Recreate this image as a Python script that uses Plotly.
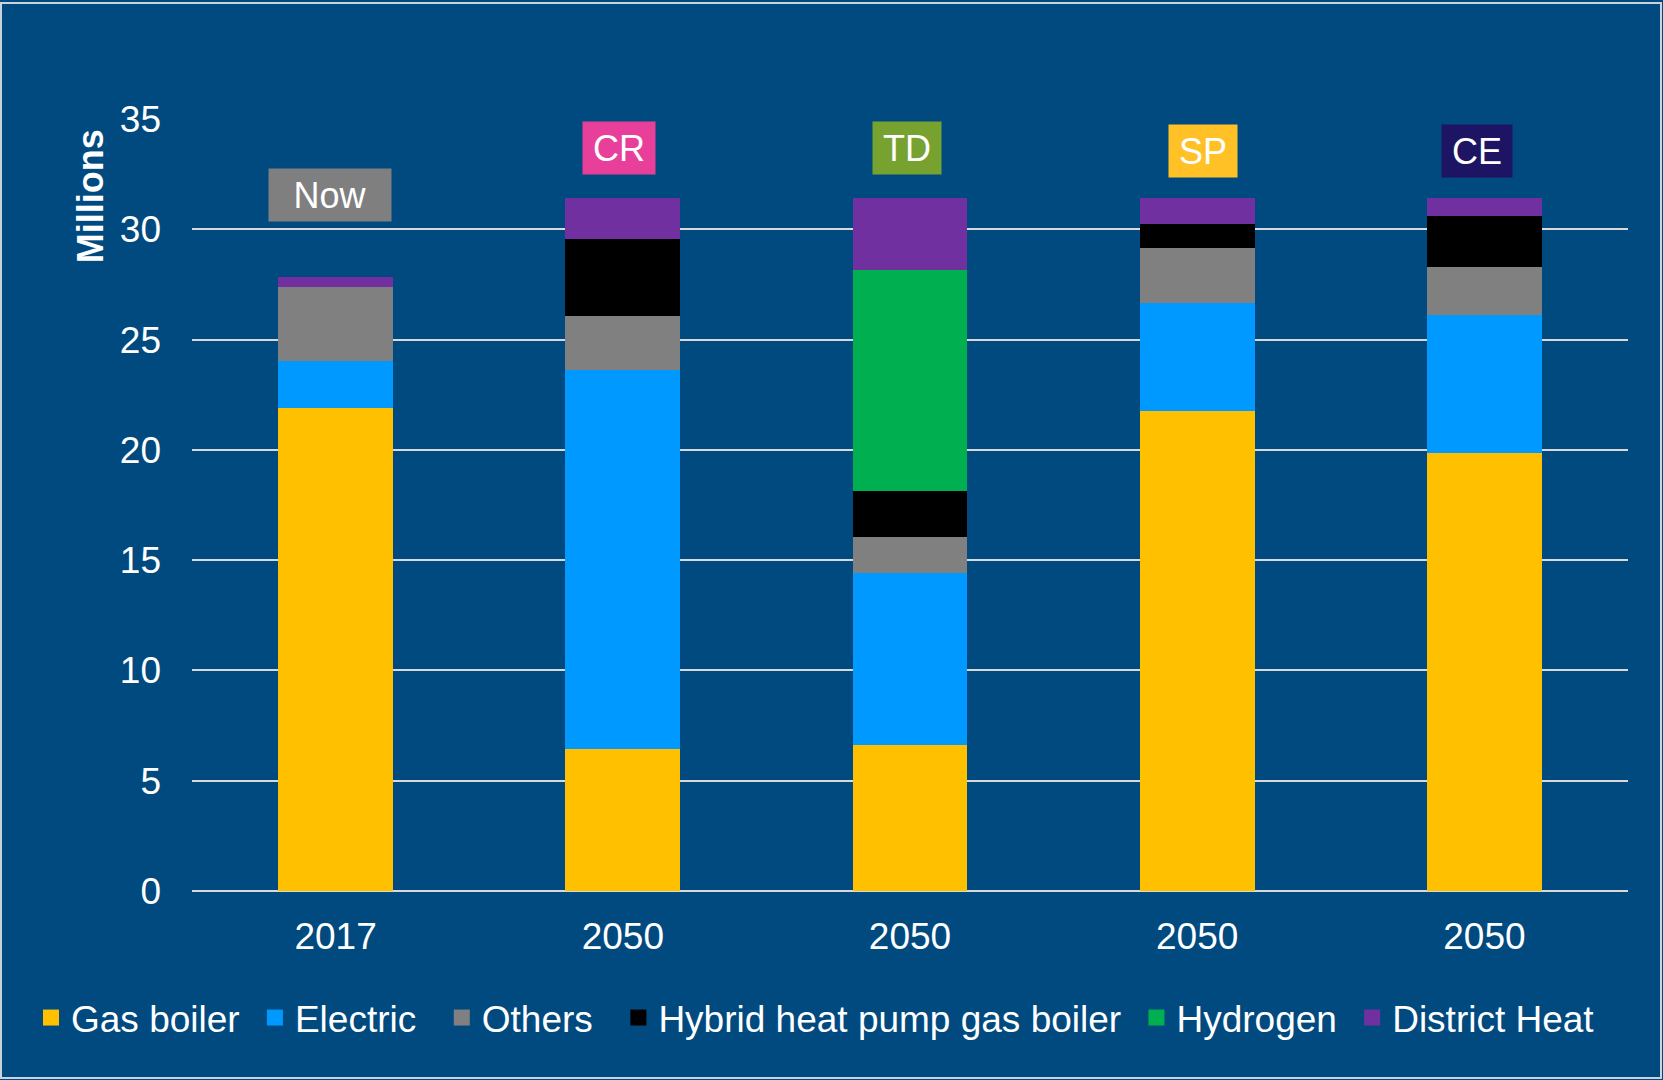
"""
Stacked bar chart: domestic heating technologies, now vs 2050 scenarios.
"""

import plotly.graph_objects as go

# ---- data -------------------------------------------------------------
year_labels = ["2017", "2050", "2050", "2050", "2050"]
scenario_labels = ["Now", "CR", "TD", "SP", "CE"]

gas_boiler = [21.9, 6.45, 6.63, 21.75, 19.85]
electric = [2.12, 17.15, 7.77, 4.9, 6.28]
others = [3.35, 2.46, 1.64, 2.51, 2.14]
hybrid = [0.0, 3.52, 2.1, 1.1, 2.34]
hydrogen = [0.0, 0.0, 10.03, 0.0, 0.0]
district_heat = [0.45, 1.83, 3.24, 1.15, 0.8]

series = [
    ("Gas boiler", gas_boiler, "#ffc000"),
    ("Electric", electric, "#0099ff"),
    ("Others", others, "#808080"),
    ("Hybrid heat pump gas boiler", hybrid, "#000000"),
    ("Hydrogen", hydrogen, "#00b050"),
    ("District Heat", district_heat, "#7030a0"),
]
# extra spacing after each legend entry (non-breaking spaces)
legend_pad = [1, 2, 2, 1, 1, 0]

# scenario tag styling
tag_colors = ["#7f7f7f", "#e8409a", "#77a22f", "#ffc125", "#1e1464"]
tag_y = [31.55, 33.7, 33.7, 33.55, 33.55]
tag_width = [120, 70, 66, 66, 68]
tag_shift = [-6, -4, -3, 6, -7]

BG = "#004a80"
FONT = "Arial, Liberation Sans, sans-serif"

W, H = 1663, 1080
margin_l, margin_r, margin_t, margin_b = 192, 35, 119, 189
plot_w = W - margin_l - margin_r
plot_h = H - margin_t - margin_b


def px_x(px):
    """pixel column -> paper x"""
    return (px - margin_l) / plot_w


def px_y(py):
    """pixel row (from top) -> paper y"""
    return (H - margin_b - py) / plot_h


x_pos = list(range(len(year_labels)))

fig = go.Figure()
for (name, values, color), pad in zip(series, legend_pad):
    fig.add_trace(
        go.Bar(
            x=x_pos,
            y=values,
            name=name,
            legendgroup=name,
            showlegend=False,
            marker=dict(color=color, line=dict(width=0)),
        )
    )
    # legend-only entry so the swatch can be a bigger square
    fig.add_trace(
        go.Scatter(
            x=[None], y=[None],
            mode="markers",
            name=name + "\u00a0" * pad,
            legendgroup=name,
            marker=dict(symbol="square", size=16, color=color),
            hoverinfo="skip",
        )
    )

for i, label in enumerate(scenario_labels):
    fig.add_annotation(
        x=x_pos[i], y=tag_y[i], xref="x", yref="y",
        text=label, showarrow=False,
        font=dict(size=36, color="white", family=FONT),
        bgcolor=tag_colors[i],
        width=tag_width[i], height=50,
        align="center", valign="middle",
        xshift=tag_shift[i],
    )

# y-axis title sits near the top, not centred
fig.add_annotation(
    x=px_x(90), y=31.5, xref="paper", yref="y",
    xanchor="center", yanchor="middle",
    text="<b>Millions</b>", textangle=-90, showarrow=False,
    font=dict(size=36, color="white", family=FONT),
)

# thin light frame around the whole picture
fig.add_shape(
    type="rect", xref="paper", yref="paper",
    x0=px_x(1), x1=px_x(1661), y0=px_y(1078), y1=px_y(3),
    line=dict(color="#c9d3de", width=2), layer="below",
)

fig.update_layout(
    width=W,
    height=H,
    barmode="stack",
    bargap=0.6,
    paper_bgcolor=BG,
    plot_bgcolor=BG,
    margin=dict(l=margin_l, r=margin_r, t=margin_t, b=margin_b, autoexpand=False),
    font=dict(family=FONT, color="white", size=36),
    showlegend=True,
    legend=dict(
        orientation="h",
        x=px_x(31), y=px_y(1018), xanchor="left", yanchor="middle",
        font=dict(size=37, color="white", family=FONT),
        itemwidth=30,
        itemsizing="trace",
        traceorder="normal",
        bgcolor="rgba(0,0,0,0)",
    ),
    xaxis=dict(
        tickmode="array",
        tickvals=x_pos,
        ticktext=year_labels,
        range=[-0.5, len(x_pos) - 0.5],
        showgrid=False,
        zeroline=False,
        ticks="",
        ticklabelstandoff=20,
        automargin=False,
        tickfont=dict(size=37, color="white", family=FONT),
    ),
    yaxis=dict(
        range=[0, 35],
        tickvals=[0, 5, 10, 15, 20, 25, 30, 35],
        showgrid=True,
        gridcolor="#d9d9d9",
        gridwidth=2,
        zeroline=True,
        zerolinecolor="#d9d9d9",
        zerolinewidth=2,
        ticks="",
        ticklabelstandoff=30,
        automargin=False,
        tickfont=dict(size=37, color="white", family=FONT),
    ),
)

fig.write_html(
    "out.html",
    config={"displayModeBar": False},
    post_script="document.body.style.margin = '0';",
)
